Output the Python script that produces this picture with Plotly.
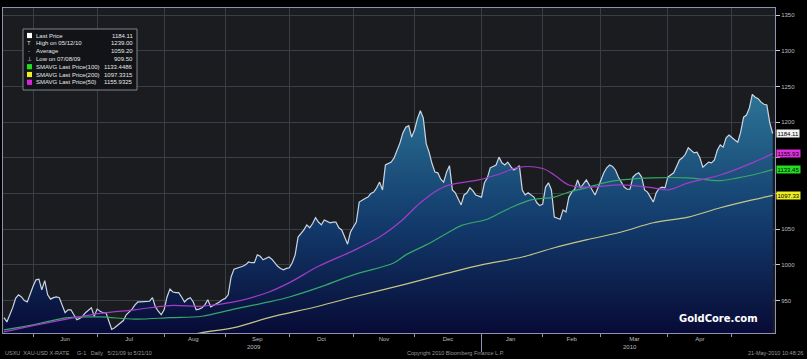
import plotly.graph_objects as go

# ---------------- data ----------------
price_dates = [
    "2009-05-18", "2009-05-19", "2009-05-20", "2009-05-21", "2009-05-22", "2009-05-25", "2009-05-26", "2009-05-27", "2009-05-28", "2009-05-29",
    "2009-06-01", "2009-06-02", "2009-06-03", "2009-06-04", "2009-06-05", "2009-06-08", "2009-06-09", "2009-06-10", "2009-06-11", "2009-06-12",
    "2009-06-15", "2009-06-16", "2009-06-17", "2009-06-18", "2009-06-19", "2009-06-22", "2009-06-23", "2009-06-24", "2009-06-25", "2009-06-26",
    "2009-06-29", "2009-06-30",
    "2009-07-01", "2009-07-02", "2009-07-03", "2009-07-06", "2009-07-07", "2009-07-08", "2009-07-09", "2009-07-10", "2009-07-13", "2009-07-14",
    "2009-07-15", "2009-07-16", "2009-07-17", "2009-07-20", "2009-07-21", "2009-07-22", "2009-07-23", "2009-07-24", "2009-07-27", "2009-07-28",
    "2009-07-29", "2009-07-30", "2009-07-31",
    "2009-08-03", "2009-08-04", "2009-08-05", "2009-08-06", "2009-08-07", "2009-08-10", "2009-08-11", "2009-08-12", "2009-08-13", "2009-08-14",
    "2009-08-17", "2009-08-18", "2009-08-19", "2009-08-20", "2009-08-21", "2009-08-24", "2009-08-25", "2009-08-26", "2009-08-27", "2009-08-28",
    "2009-08-31",
    "2009-09-01", "2009-09-02", "2009-09-03", "2009-09-04", "2009-09-07", "2009-09-08", "2009-09-09", "2009-09-10", "2009-09-11", "2009-09-14",
    "2009-09-15", "2009-09-16", "2009-09-17", "2009-09-18", "2009-09-21", "2009-09-22", "2009-09-23", "2009-09-24", "2009-09-25", "2009-09-28",
    "2009-09-29", "2009-09-30",
    "2009-10-01", "2009-10-02", "2009-10-05", "2009-10-06", "2009-10-07", "2009-10-08", "2009-10-09", "2009-10-12", "2009-10-13", "2009-10-14",
    "2009-10-15", "2009-10-16", "2009-10-19", "2009-10-20", "2009-10-21", "2009-10-22", "2009-10-23", "2009-10-26", "2009-10-27", "2009-10-28",
    "2009-10-29", "2009-10-30",
    "2009-11-02", "2009-11-03", "2009-11-04", "2009-11-05", "2009-11-06", "2009-11-09", "2009-11-10", "2009-11-11", "2009-11-12", "2009-11-13",
    "2009-11-16", "2009-11-17", "2009-11-18", "2009-11-19", "2009-11-20", "2009-11-23", "2009-11-24", "2009-11-25", "2009-11-26", "2009-11-27",
    "2009-11-30",
    "2009-12-01", "2009-12-02", "2009-12-03", "2009-12-04", "2009-12-07", "2009-12-08", "2009-12-09", "2009-12-10", "2009-12-11", "2009-12-14",
    "2009-12-15", "2009-12-16", "2009-12-17", "2009-12-18", "2009-12-21", "2009-12-22", "2009-12-23", "2009-12-24", "2009-12-25", "2009-12-28",
    "2009-12-29", "2009-12-30", "2009-12-31",
    "2010-01-01", "2010-01-04", "2010-01-05", "2010-01-06", "2010-01-07", "2010-01-08", "2010-01-11", "2010-01-12", "2010-01-13", "2010-01-14",
    "2010-01-15", "2010-01-18", "2010-01-19", "2010-01-20", "2010-01-21", "2010-01-22", "2010-01-25", "2010-01-26", "2010-01-27", "2010-01-28",
    "2010-01-29",
    "2010-02-01", "2010-02-02", "2010-02-03", "2010-02-04", "2010-02-05", "2010-02-08", "2010-02-09", "2010-02-10", "2010-02-11", "2010-02-12",
    "2010-02-15", "2010-02-16", "2010-02-17", "2010-02-18", "2010-02-19", "2010-02-22", "2010-02-23", "2010-02-24", "2010-02-25", "2010-02-26",
    "2010-03-01", "2010-03-02", "2010-03-03", "2010-03-04", "2010-03-05", "2010-03-08", "2010-03-09", "2010-03-10", "2010-03-11", "2010-03-12",
    "2010-03-15", "2010-03-16", "2010-03-17", "2010-03-18", "2010-03-19", "2010-03-22", "2010-03-23", "2010-03-24", "2010-03-25", "2010-03-26",
    "2010-03-29", "2010-03-30", "2010-03-31",
    "2010-04-01", "2010-04-02", "2010-04-05", "2010-04-06", "2010-04-07", "2010-04-08", "2010-04-09", "2010-04-12", "2010-04-13", "2010-04-14",
    "2010-04-15", "2010-04-16", "2010-04-19", "2010-04-20", "2010-04-21", "2010-04-22", "2010-04-23", "2010-04-26", "2010-04-27", "2010-04-28",
    "2010-04-29", "2010-04-30",
    "2010-05-03", "2010-05-04", "2010-05-05", "2010-05-06", "2010-05-07", "2010-05-10", "2010-05-11", "2010-05-12", "2010-05-13", "2010-05-14",
    "2010-05-17", "2010-05-18", "2010-05-19", "2010-05-20", "2010-05-21",
]
price_values = [
    926, 920, 930, 940, 953, 958, 955, 950, 948, 960,
    970, 979, 980, 965, 978, 958, 952, 954, 955, 954,
    944, 933, 937, 937, 930, 923, 925, 928, 933, 937,
    940, 928,
    938, 935, 933, 933, 920, 909.5, 912, 915, 918, 922,
    930, 934, 938, 944, 948, 948, 948, 949, 949, 954,
    941, 935, 930,
    937, 955, 966, 962, 961, 961, 955, 948, 952, 954,
    948, 937, 938, 940, 944, 951, 941, 943, 945, 948,
    951,
    953, 958, 983, 994, 995, 996, 998, 1000, 1004, 1003,
    1003, 1014, 1012, 1007, 1009, 1011, 1008, 1003, 998, 995,
    993, 995,
    996, 1003, 1014, 1039, 1044, 1049, 1056, 1052, 1058, 1066,
    1060, 1056, 1063, 1061, 1059, 1060, 1060, 1052, 1049, 1039,
    1029, 1046,
    1053, 1060, 1088, 1091, 1093, 1095, 1100, 1102, 1108, 1116,
    1105, 1140, 1142, 1144, 1150, 1160, 1171, 1185, 1193, 1195,
    1179,
    1189, 1205, 1216, 1206, 1170, 1158, 1142, 1130, 1129, 1120,
    1116, 1130, 1139, 1105, 1101, 1092, 1084, 1098, 1101, 1108,
    1104, 1098, 1096,
    1095, 1115, 1122, 1136, 1138, 1140, 1151, 1143, 1140, 1144,
    1138, 1133, 1135, 1139, 1105, 1098, 1101, 1098, 1095, 1087,
    1083,
    1085, 1109, 1115, 1105, 1067, 1066, 1064, 1077, 1074, 1095,
    1102, 1106, 1119, 1108, 1114, 1119, 1112, 1104, 1098, 1108,
    1118, 1129, 1136, 1140, 1138, 1133, 1123, 1115, 1109, 1106,
    1106, 1123, 1127, 1129, 1123, 1105, 1102, 1095, 1088, 1101,
    1107, 1109, 1108,
    1123, 1126, 1129, 1138, 1147, 1150, 1155, 1164, 1160, 1157,
    1158, 1150, 1137, 1140, 1144, 1143, 1147, 1161, 1168, 1165,
    1178, 1182,
    1178, 1175, 1172, 1186, 1207, 1210, 1220, 1239, 1235, 1233,
    1228, 1225, 1224, 1199, 1184.11,
]

sma50_dates = ["2009-05-18", "2009-06-05", "2009-07-02", "2009-07-20", "2009-08-05", "2009-08-20", "2009-09-04",
               "2009-09-22", "2009-10-01", "2009-10-15", "2009-11-02", "2009-11-13", "2009-11-24", "2009-12-03",
               "2009-12-11", "2009-12-17", "2009-12-31", "2010-01-11", "2010-01-20", "2010-02-01", "2010-02-05",
               "2010-02-12", "2010-02-22", "2010-03-10", "2010-03-25", "2010-04-01", "2010-04-12", "2010-04-27",
               "2010-05-12", "2010-05-21"]
sma50_values = [906, 918, 932, 937, 943, 942, 948,
                962, 975, 998, 1020, 1039, 1060, 1087,
                1105, 1112, 1119, 1127, 1137, 1135, 1126,
                1112, 1109, 1112, 1108, 1105, 1115, 1126,
                1143, 1155.9325]

sma100_dates = ["2009-05-18", "2009-06-01", "2009-06-17", "2009-07-02", "2009-07-20", "2009-08-05", "2009-08-20",
                "2009-09-03", "2009-09-22", "2009-10-01", "2009-10-15", "2009-11-02", "2009-11-20", "2009-11-26",
                "2009-12-07", "2009-12-16", "2009-12-23", "2010-01-05", "2010-01-08", "2010-01-15", "2010-01-26",
                "2010-02-05", "2010-02-12", "2010-02-22", "2010-03-02", "2010-03-10", "2010-03-25", "2010-04-12",
                "2010-04-27", "2010-05-05", "2010-05-12", "2010-05-21"]
sma100_values = [909, 916, 926, 927, 924, 926, 928,
                 937, 948, 955, 968, 986, 1003, 1014,
                 1028, 1044, 1055, 1064, 1070, 1080, 1091,
                 1095, 1102, 1108, 1115, 1119, 1122, 1122,
                 1118, 1122, 1126, 1133.4486]

sma200_dates = ["2009-08-10", "2009-08-20", "2009-09-04", "2009-09-22", "2009-10-15", "2009-11-02", "2009-11-26",
                "2009-12-16", "2010-01-01", "2010-01-21", "2010-02-05", "2010-02-22", "2010-03-10", "2010-03-25",
                "2010-04-12", "2010-04-27", "2010-05-12", "2010-05-21"]
sma200_values = [898, 905, 912, 926, 942, 955, 973,
                 988, 1000, 1011, 1024, 1035, 1046, 1059,
                 1067, 1080, 1091, 1097.3315]

# month boundaries (first trading day of each month) and mid-month label anchors
month_starts = ["2009-06-01", "2009-07-01", "2009-08-03", "2009-09-01", "2009-10-01", "2009-11-02",
                "2009-12-01", "2010-01-01", "2010-02-01", "2010-03-01", "2010-04-01", "2010-05-03"]
month_mids = ["2009-06-16", "2009-07-16", "2009-08-17", "2009-09-16", "2009-10-16", "2009-11-16 12:00",
              "2009-12-16 12:00", "2010-01-15", "2010-02-15", "2010-03-16 12:00", "2010-04-16"]
month_labels = ["Jun", "Jul", "Aug", "Sep", "Oct", "Nov", "Dec", "Jan", "Feb", "Mar", "Apr"]

y_ticks = [950, 1000, 1050, 1100, 1150, 1200, 1250, 1300, 1350]
y_labels = ["950", "1000", "1050", "", "", "1200", "1250", "1300", "1350"]

legend_labels = ["Last Price", "High on 05/12/10", "Average", "Low on 07/08/09",
                 "SMAVG Last Price(100)", "SMAVG Last Price(200)", "SMAVG Last Price(50)"]
legend_values = ["1184.11", "1239.00", "1059.20", "909.50", "1133.4486", "1097.3315", "1155.9325"]
legend_marks = ["sq", "T", "-", "⊥", "sq", "sq", "sq"]
legend_colors = ["#ffffff", "#dddddd", "#dddddd", "#dddddd", "#22dd22", "#eeee22", "#dd22dd"]

year_labels = ["2009", "2010"]
year_dates = ["2009-09-15", "2010-03-15"]

C_PRICE = "#cdd6e0"
C_50 = "#a33cc8"
C_100 = "#35a86a"
C_200 = "#c5c686"

# ---------------- figure ----------------
W, H = 807, 359
L, R, T, B = 3, 775, 8, 333


def px(x):
    return (x - L) / (R - L)


def py(y):
    return (B - y) / (B - T)


fig = go.Figure()
fig.add_trace(go.Scatter(
    x=price_dates, y=price_values, mode="lines",
    line=dict(color=C_PRICE, width=1.2),
    fill="tozeroy",
    fillgradient=dict(type="vertical", start=905, stop=1240,
                      colorscale=[[0, "#080b36"], [0.45, "#123a6b"], [1, "#2c7496"]]),
    hoverinfo="skip"))
fig.add_trace(go.Scatter(x=sma200_dates, y=sma200_values, mode="lines",
                         line=dict(color=C_200, width=1.2), line_shape="spline"))
fig.add_trace(go.Scatter(x=sma100_dates, y=sma100_values, mode="lines",
                         line=dict(color=C_100, width=1.2), line_shape="spline"))
fig.add_trace(go.Scatter(x=sma50_dates, y=sma50_values, mode="lines",
                         line=dict(color=C_50, width=1.2), line_shape="spline"))

fig.update_layout(
    width=W, height=H,
    margin=dict(l=L, r=W - R, t=T, b=H - B, autoexpand=False),
    paper_bgcolor="#000000", plot_bgcolor="#1a1c20",
    showlegend=False,
    font=dict(family="Liberation Sans, Arial, sans-serif", color="#bdbdbd", size=6),
)
fig.update_xaxes(
    type="date", range=["2009-05-17 16:00", "2010-05-21 19:00"],
    rangebreaks=[dict(bounds=["sat", "mon"])],
    tickmode="array", tickvals=month_mids, ticktext=month_labels,
    ticks="", ticklen=2, showgrid=False,
    minor=dict(tickmode="array", tickvals=month_starts, ticks="outside", ticklen=3,
               tickcolor="#8d92b8", showgrid=True, gridcolor="#3a3d45", gridwidth=1),
    showline=True, linecolor="#8d92b8", linewidth=1, mirror=True,
    tickfont=dict(size=6, color="#bdbdbd"), zeroline=False,
)
fig.update_yaxes(
    side="right", range=[904.5, 1360],
    tickmode="array", tickvals=y_ticks, ticktext=y_labels,
    ticks="outside", ticklen=4, tickcolor="#cccccc",
    showgrid=True, gridcolor="#3a3d45", gridwidth=1,
    showline=True, linecolor="#8d92b8", linewidth=1, mirror=True,
    tickfont=dict(size=6, color="#bdbdbd"), zeroline=False,
)

shapes = []
annots = []

# legend box
shapes.append(dict(type="rect", xref="paper", yref="paper",
                   x0=px(23), x1=px(137), y0=py(90), y1=py(29),
                   fillcolor="#111317", line=dict(color="#80848c", width=1), layer="above"))
row_y = [35.5, 43.3, 51.1, 58.9, 66.7, 74.5, 82.3]
for lab, val, mk, col, yy in zip(legend_labels, legend_values, legend_marks, legend_colors, row_y):
    if mk == "sq":
        shapes.append(dict(type="rect", xref="paper", yref="paper",
                           x0=px(27), x1=px(32), y0=py(yy + 2.6), y1=py(yy - 2.6),
                           fillcolor=col, line=dict(width=0), layer="above"))
    else:
        annots.append(dict(xref="paper", yref="paper", x=px(29.5), y=py(yy), text=mk,
                           showarrow=False, xanchor="center", yanchor="middle",
                           font=dict(size=6, color=col)))
    annots.append(dict(xref="paper", yref="paper", x=px(34), y=py(yy), text=lab,
                       showarrow=False, xanchor="left", yanchor="middle",
                       font=dict(size=6, color="#e6e6e6")))
    annots.append(dict(xref="paper", yref="paper", x=px(135), y=py(yy), text=val,
                       showarrow=False, xanchor="right", yanchor="middle",
                       font=dict(size=6, color="#e6e6e6")))

# right-side value tags
tags = [(price_values[-1], "1184.11", "#f2f2f2"),
        (sma50_values[-1], "1155.93", "#e030e0"),
        (sma100_values[-1], "1133.45", "#22dd22"),
        (sma200_values[-1], "1097.33", "#eeee22")]
for v, txt, col in tags:
    annots.append(dict(xref="paper", yref="y", x=px(776), y=v, text=txt,
                       showarrow=False, xanchor="left", yanchor="middle",
                       bgcolor=col, borderpad=0.5,
                       font=dict(size=6, color="#000000")))

# year labels and year separator
for yl, yd in zip(year_labels, year_dates):
    annots.append(dict(xref="x", yref="paper", x=yd, y=py(347), text=yl,
                       showarrow=False, xanchor="center", yanchor="middle",
                       font=dict(size=6, color="#bdbdbd")))
shapes.append(dict(type="line", xref="x", yref="paper", x0="2010-01-01", x1="2010-01-01",
                   y0=py(333), y1=py(352), line=dict(color="#8d92b8", width=1)))

# watermark
annots.append(dict(xref="paper", yref="paper", x=px(718), y=py(318), text="<b>GoldCore.com</b>",
                   showarrow=False, xanchor="center", yanchor="middle",
                   font=dict(family="DejaVu Sans, sans-serif", size=10, color="#ffffff")))

# footer texts
annots.append(dict(xref="paper", yref="paper", x=px(3), y=py(352.5),
                   text="USXU  XAU-USD X-RATE     G-1   Daily   5/21/09 to 5/21/10",
                   showarrow=False, xanchor="left", yanchor="middle",
                   font=dict(size=5.5, color="#9a9a9a")))
annots.append(dict(xref="paper", yref="paper", x=px(456), y=py(352.5),
                   text="Copyright 2010 Bloomberg Finance L.P.",
                   showarrow=False, xanchor="center", yanchor="middle",
                   font=dict(size=5.5, color="#9a9a9a")))
annots.append(dict(xref="paper", yref="paper", x=px(805), y=py(352.5),
                   text="21-May-2010 10:48:26",
                   showarrow=False, xanchor="right", yanchor="middle",
                   font=dict(size=5.5, color="#9a9a9a")))

fig.update_layout(shapes=shapes, annotations=annots)
fig.write_html("out.html",
               config={"displayModeBar": False},
               post_script="document.body.style.margin='0';document.body.style.overflow='hidden';")
